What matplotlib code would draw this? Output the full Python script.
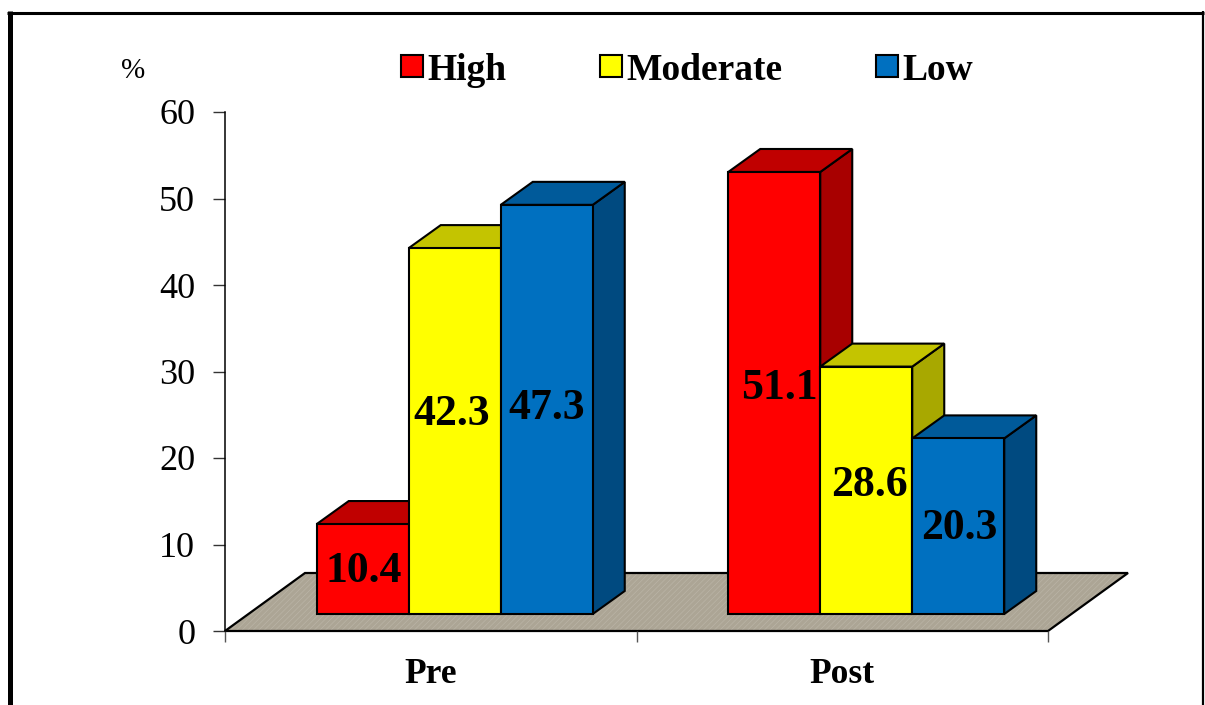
import numpy as np
import matplotlib
matplotlib.use("Agg")
import matplotlib.pyplot as plt
from matplotlib.lines import Line2D
from matplotlib.patches import Patch, Polygon

# --------------------------- Data ---------------------------

categories = ["Pre", "Post"]
levels = ["High", "Moderate", "Low"]
high = [10.4, 51.1]
moderate = [42.3, 28.6]
low = [47.3, 20.3]
y_ticks = [0, 10, 20, 30, 40, 50, 60]

# front, top, side
colors = {
    "High": ("#FF0000", "#C00000", "#A80000"),
    "Moderate": ("#FFFF00", "#C4C400", "#A8A800"),
    "Low": ("#0070C0", "#005A9A", "#004A80"),
}

# label shift from the bar middle, pixels (positive y is up)
label_nudge = {
    "High": [(1, -2), (5, 5)],
    "Moderate": [(-3, 17), (3, 5)],
    "Low": [(0, 1), (1, -2)],
}

# --------------------------- Layout ---------------------------

W, H = 1205, 705
AX_LEFT, AX_RIGHT = 225, 1048
AX_TOP, AX_BOTTOM = 112, 631
FONT = ["Liberation Serif", "DejaVu Serif"]

plt.rcParams["font.family"] = FONT
plt.rcParams["hatch.linewidth"] = 0.5

fig = plt.figure(figsize=(W / 100, H / 100), dpi=100)
ax = fig.add_axes([AX_LEFT / W, 1 - AX_BOTTOM / H,
                   (AX_RIGHT - AX_LEFT) / W, (AX_BOTTOM - AX_TOP) / H])
ax.set_xlim(0, 2)
ax.set_ylim(0, 60)

# pixel sizes expressed in data units
px_x = 2 / (AX_RIGHT - AX_LEFT)
px_y = 60 / (AX_BOTTOM - AX_TOP)

# --------------------------- Floor ---------------------------

floor_dx, floor_dy = 80 * px_x, 58 * px_y
floor = [(0, 0), (2, 0), (2 + floor_dx, floor_dy), (floor_dx, floor_dy)]
# woven look: faint diagonal hatch over the flat fill, outline on top
ax.add_patch(Polygon(floor, closed=True, facecolor="#ACA595", edgecolor="#BAB4A6", lw=0,
                     hatch="//////", clip_on=False, zorder=1))
ax.add_patch(Polygon(floor, closed=True, facecolor="none", edgecolor="black", lw=1.6,
                     clip_on=False, zorder=1.1))

# --------------------------- Bars ---------------------------

bar_w = 92 * px_x
base_dx, base_dy = 24 * px_x, 17 * px_y
depth_dx, depth_dy = 32 * px_x, 23 * px_y


def draw_bar(x0, value, level):
    front, top, side = colors[level]
    x1 = x0 + bar_w
    y0 = base_dy
    y1 = base_dy + value
    style = dict(closed=True, edgecolor="black", lw=1.5, clip_on=False, zorder=2,
                 joinstyle="miter")
    ax.add_patch(Polygon([(x1, y0), (x1 + depth_dx, y0 + depth_dy),
                          (x1 + depth_dx, y1 + depth_dy), (x1, y1)],
                         facecolor=side, **style))
    ax.add_patch(Polygon([(x0, y1), (x1, y1), (x1 + depth_dx, y1 + depth_dy),
                          (x0 + depth_dx, y1 + depth_dy)],
                         facecolor=top, **style))
    ax.add_patch(Polygon([(x0, y0), (x1, y0), (x1, y1), (x0, y1)],
                         facecolor=front, **style))


series = {"High": high, "Moderate": moderate, "Low": low}
centers = np.arange(len(categories)) + 0.5

for i, center in enumerate(centers):
    for j, level in enumerate(levels):
        x0 = center + base_dx + (j - 1.5) * bar_w
        value = series[level][i]
        draw_bar(x0, value, level)

for i, center in enumerate(centers):
    for j, level in enumerate(levels):
        value = series[level][i]
        nudge = label_nudge[level][i]
        ax.annotate(f"{value:.1f}",
                    xy=(center + base_dx + (j - 1) * bar_w, base_dy + value / 2),
                    xytext=(nudge[0] * 0.72, nudge[1] * 0.72), textcoords="offset points",
                    ha="center", va="center", fontsize=31.5, fontweight="bold",
                    color="black", zorder=5, annotation_clip=False)

# --------------------------- Axes ---------------------------

for name in ["top", "right"]:
    ax.spines[name].set_visible(False)
ax.spines["left"].set_linewidth(1.1)
ax.spines["bottom"].set_linewidth(1.1)
ax.spines["bottom"].set_zorder(1.5)

ax.set_yticks(y_ticks)
ax.tick_params(axis="y", length=9, width=1, color="#333333", pad=12.5, labelsize=26)
ax.set_xticks([0, 1, 2])
ax.set_xticklabels([])
ax.tick_params(axis="x", length=8, width=1, color="#555555")
ax.set_xticks(centers, categories, minor=True)
ax.tick_params(axis="x", which="minor", length=0, pad=19.5, labelsize=25.5)
for label in ax.get_xticklabels(minor=True):
    label.set_fontweight("bold")

fig.text(133 / W, 1 - 71 / H, "%", ha="center", va="center", fontsize=21)

# --------------------------- Legend ---------------------------

handles = [Patch(facecolor=colors[level][0], edgecolor="black", lw=1.5) for level in levels]
fontpx = 27 * 100 / 72
fig.legend(handles, levels, loc="center", bbox_to_anchor=(687 / W, 1 - 70 / H),
           ncol=3, frameon=False, borderpad=0, borderaxespad=0,
           prop={"family": FONT, "weight": "bold", "size": 27},
           handlelength=22 / fontpx, handleheight=20 / fontpx,
           handletextpad=5 / fontpx, columnspacing=93 / fontpx)

# --------------------------- Outer frame ---------------------------

frame = dict(color="black", transform=fig.transFigure, solid_capstyle="butt")
fig.add_artist(Line2D([9.5 / W, 9.5 / W], [0, 1 - 11 / H], lw=3.6, **frame))
fig.add_artist(Line2D([7 / W, 1204 / W], [1 - 12.5 / H, 1 - 12.5 / H], lw=2.2, **frame))
fig.add_artist(Line2D([1203 / W, 1203 / W], [0, 1 - 11 / H], lw=1.6, **frame))

fig.savefig("out.png", dpi=100)
